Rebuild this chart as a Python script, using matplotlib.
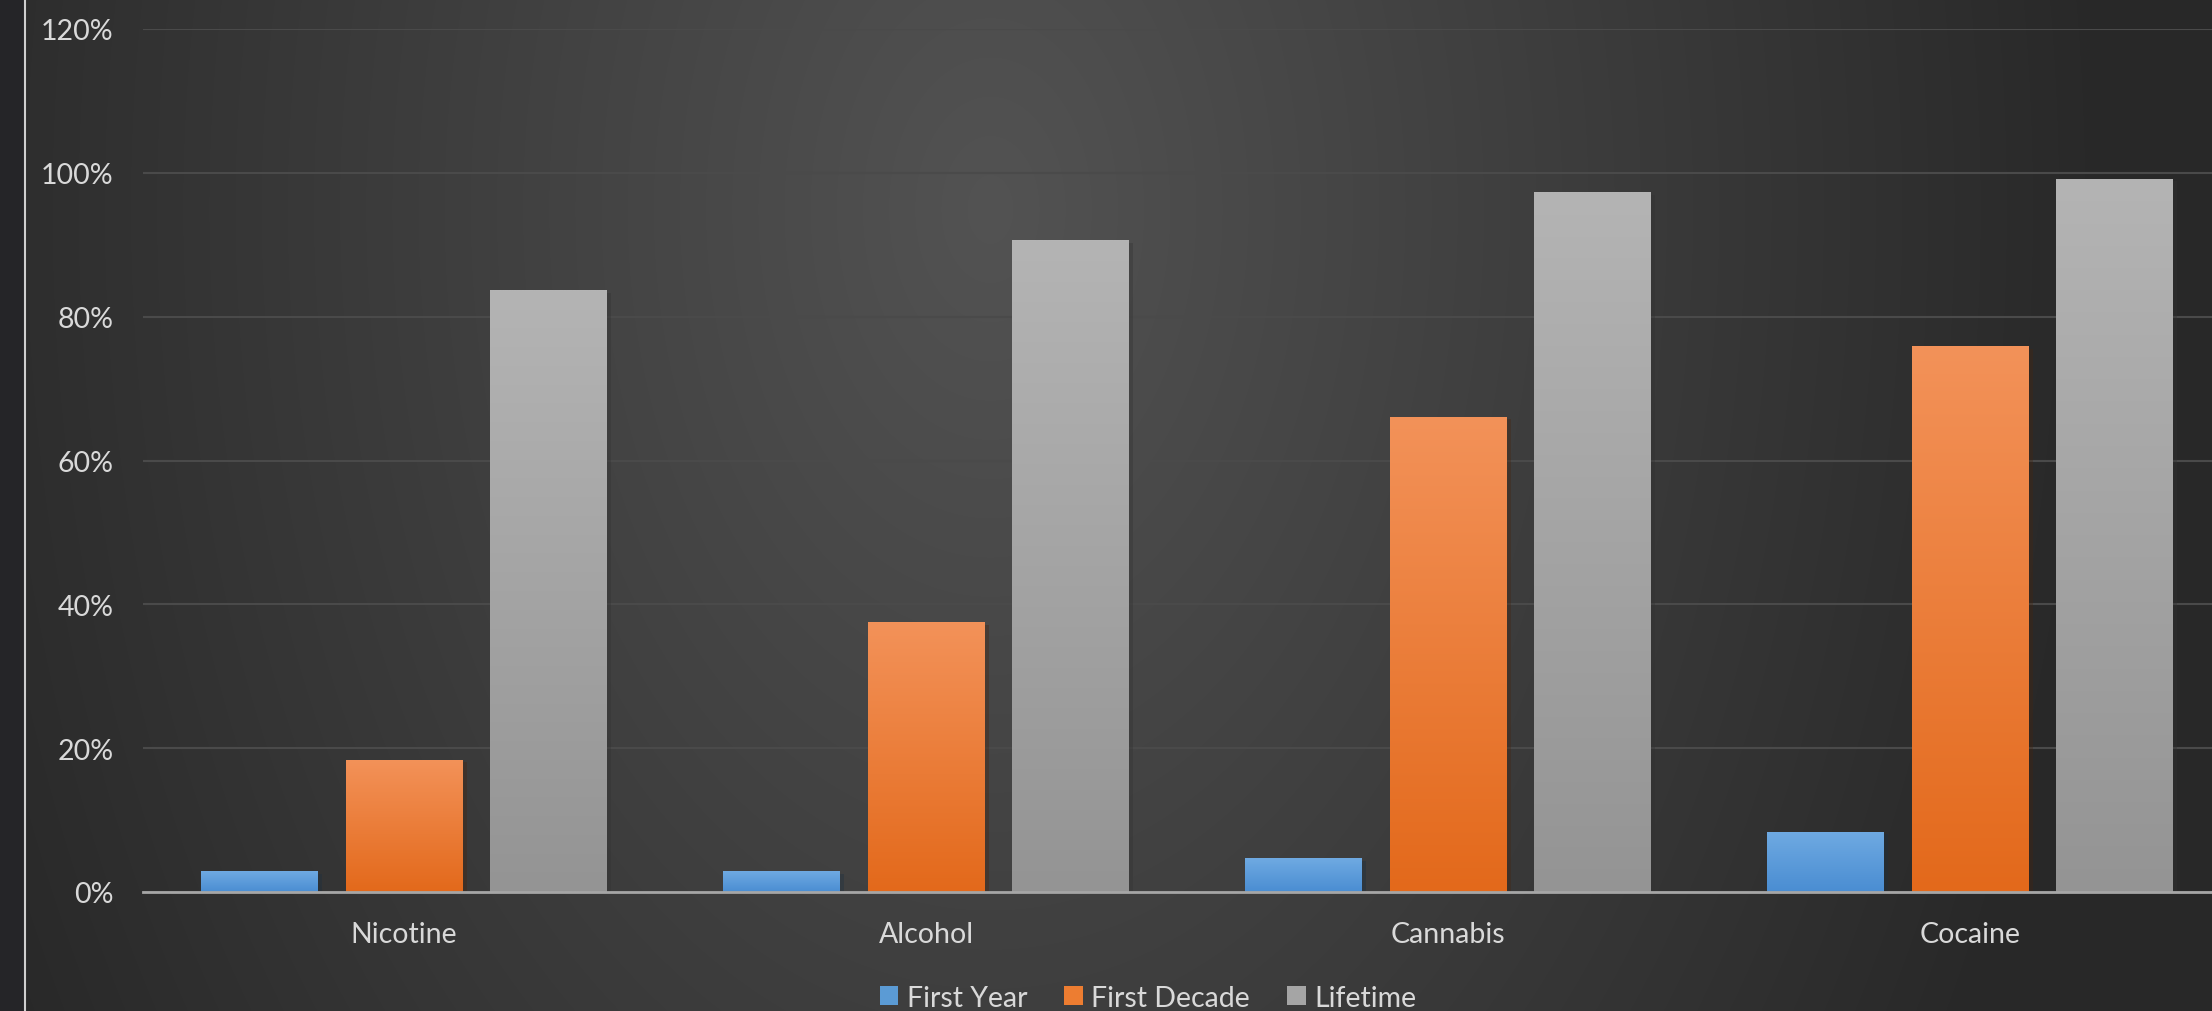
import numpy as np
import matplotlib.pyplot as plt
import matplotlib.patheffects as pe
from matplotlib.patches import Patch, Rectangle
from matplotlib.lines import Line2D
from matplotlib.colors import LinearSegmentedColormap

plt.rcParams['font.family'] = ['Lato', 'DejaVu Sans']

# Data
categories = ['Nicotine', 'Alcohol', 'Cannabis', 'Cocaine']
series_names = ['First Year', 'First Decade', 'Lifetime']
first_year = [0.029, 0.029, 0.047, 0.084]
first_decade = [0.184, 0.375, 0.661, 0.759]
lifetime = [0.837, 0.906, 0.973, 0.992]
y_ticks = [0.0, 0.2, 0.4, 0.6, 0.8, 1.0, 1.2]
y_tick_labels = ['0%', '20%', '40%', '60%', '80%', '100%', '120%']

# (base, bottom, top) colours per series
series_colors = [
    ('#5b9bd5', '#4a8dd2', '#6faae2'),
    ('#ed7d31', '#e3691b', '#f39259'),
    ('#a5a5a5', '#949494', '#b4b4b4'),
]
text_color = '#d9d9d9'

W, H = 2212, 1012
fig = plt.figure(figsize=(W / 100, H / 100), dpi=100)

# radial dark background
bg = fig.add_axes([0, 0, 1, 1])
bg.axis('off')
yy, xx = np.mgrid[0:H, 0:W]
r = np.hypot((xx - 990) / 1000, (yy - 210) / 1500)
shade = np.clip(0.325 - 0.15 * r, 0.16, 0.325)
bg.imshow(np.dstack([shade, shade, shade]), extent=(0, W, H, 0), aspect='auto')
bg.add_patch(Rectangle((0, 0), 23, H, color='#252528', zorder=2))
bg.add_line(Line2D([24.5, 24.5], [0, H], color='#cfcfcf', lw=1.5, zorder=3))
bg.set_xlim(0, W)
bg.set_ylim(H, 0)

# main chart axes (right edge runs off the picture, as in the reference)
ax = fig.add_axes([143 / W, (H - 893) / H, 2088 / W, 863 / H])
ax.set_facecolor('none')

x = np.arange(len(categories))
width = 0.224
step = 0.277
grad = np.linspace(0, 1, 256).reshape(-1, 1)

for i, vals in enumerate([first_year, first_decade, lifetime]):
    base, bottom, top = series_colors[i]
    bars = ax.bar(x + (i - 1) * step, vals, width, color=base, zorder=3,
                  path_effects=[pe.SimplePatchShadow(offset=(3, -2), alpha=0.35),
                                pe.Normal()])
    cmap = LinearSegmentedColormap.from_list('g%d' % i, [bottom, top])
    for bar in bars:
        im = ax.imshow(grad, cmap=cmap, origin='lower', aspect='auto', zorder=3.5,
                       extent=(bar.get_x(), bar.get_x() + bar.get_width(),
                               0, bar.get_height()))
        im.set_clip_path(bar)

ax.set_xlim(-0.5, len(categories) - 0.5)
ax.set_ylim(0, 1.2)
ax.set_yticks(y_ticks)
ax.set_yticklabels(y_tick_labels)
ax.set_xticks(x)
ax.set_xticklabels(categories)
ax.tick_params(axis='y', length=0, pad=21, labelsize=20.5, labelcolor=text_color)
ax.tick_params(axis='x', length=0, pad=21, labelsize=20.5, labelcolor=text_color)
ax.grid(axis='y', color='#4a4a4a', lw=1.5, zorder=0)
for s in ['top', 'right', 'left']:
    ax.spines[s].set_visible(False)
ax.spines['bottom'].set_color('#a6a6a6')
ax.spines['bottom'].set_linewidth(2)
ax.spines['bottom'].set_zorder(4)

handles = [Patch(facecolor=c[0]) for c in series_colors]
fig.legend(handles, series_names, loc='lower center', bbox_to_anchor=(0.519, -0.025),
           ncol=3, frameon=False, fontsize=20.5, labelcolor=text_color,
           handlelength=0.65, handleheight=0.65, handletextpad=0.3, columnspacing=1.3)

fig.savefig('out.png', dpi=100)
